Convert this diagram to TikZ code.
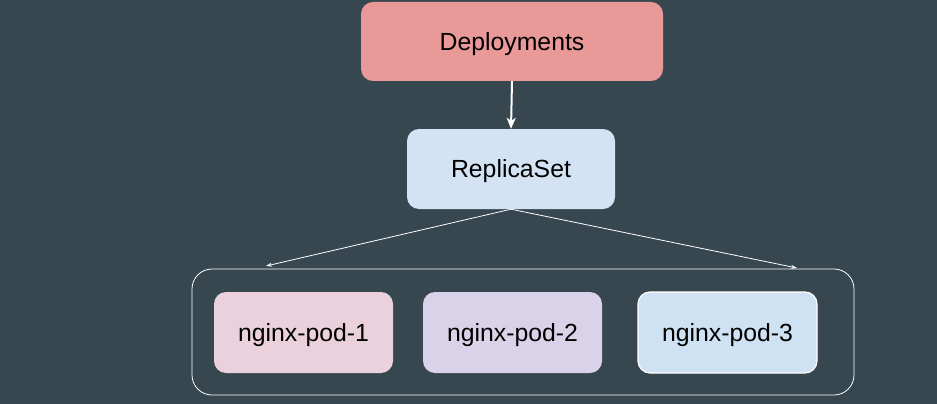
\documentclass[tikz,border=0pt]{standalone}
\usepackage{fontspec}
\setmainfont{Liberation Sans}
\usetikzlibrary{arrows.meta}

\definecolor{bgslate}{HTML}{37474F}
\definecolor{deprose}{HTML}{EA9999}
\definecolor{rsblue}{HTML}{D4E3F4}
\definecolor{podpink}{HTML}{EAD1DC}
\definecolor{podlilac}{HTML}{D9D2E9}
\definecolor{podblue}{HTML}{CFE2F3}

\tikzset{
  box/.style={rectangle, rounded corners=12pt, inner sep=0pt, text=black,
    text depth=0pt, font=\fontsize{24.8}{28}\selectfont},
  podbox/.style={box, minimum width=179pt, minimum height=81pt},
  link/.style={white, line width=0.8pt, -{Stealth[length=6pt,width=4pt]}}
}

\begin{document}
\begin{tikzpicture}[x=1pt, y=-1pt]
    \fill[bgslate] (0,0) rectangle (937,404);
    \useasboundingbox (0,0) rectangle (937,404);

    \node[box, fill=deprose, minimum width=302pt, minimum height=79pt] (dep) at (512,41.5) {Deployments};
    \node[box, fill=rsblue, minimum width=208pt, minimum height=80pt] (rs) at (511,169) {ReplicaSet};

    % grupo de pods
    \node[draw=white, line width=0.8pt, rounded corners=20pt, minimum width=662pt,
          minimum height=126pt] (pods) at (523,332) {};
    \node[podbox, fill=podpink] (pod1) at (303.5,332.5) {nginx-pod-1};
    \node[podbox, fill=podlilac] (pod2) at (512.5,332.5) {nginx-pod-2};
    \node[podbox, fill=podblue, draw=white, line width=1.2pt] (pod3) at (727.5,332.5) {nginx-pod-3};

    \coordinate (tipL) at (266,266);
    \coordinate (tipR) at (797,268);

    \draw[white, line width=2pt, -{Stealth[length=11pt,width=9pt,inset=3pt]}] (dep.south) -- (rs.north);
    \draw[link] (rs.south) -- (tipL);
    \draw[link] (rs.south) -- (tipR);
  \end{tikzpicture}
\end{document}
